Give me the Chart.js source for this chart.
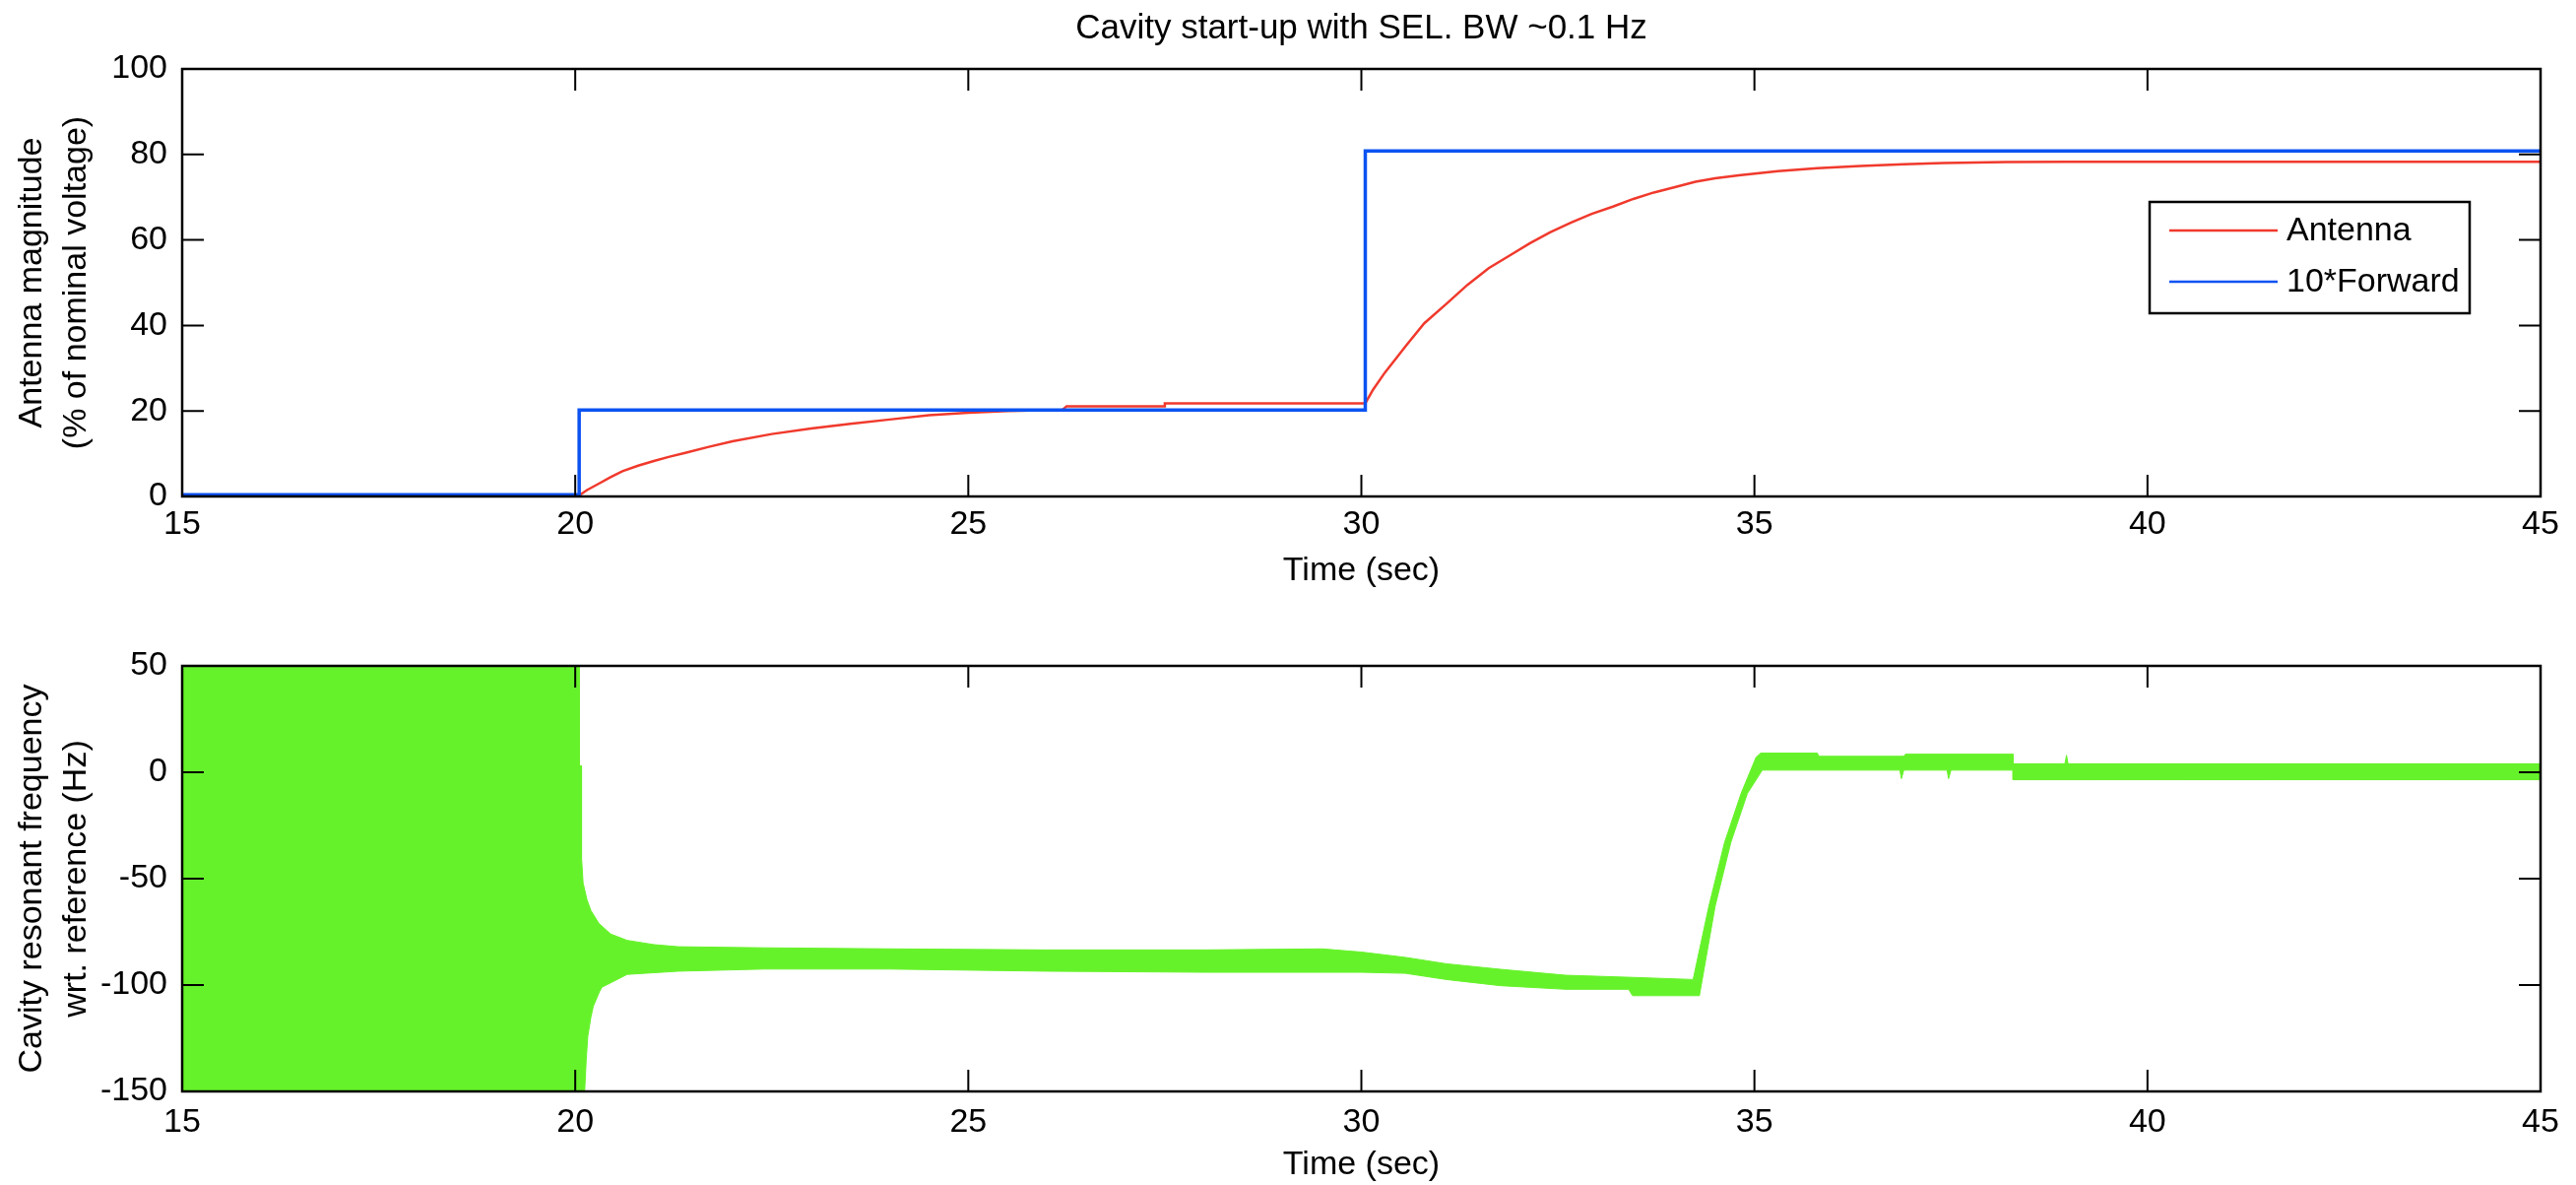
<!DOCTYPE html>
<html>
<head>
<meta charset="utf-8">
<title>Cavity start-up</title>
<script src="https://cdn.jsdelivr.net/npm/chart.js@4.4.0/dist/chart.umd.min.js"></script>
<style>
  body { margin: 0; background: #fff; }
  canvas { display: block; }
</style>
</head>
<body>
<canvas id="ampChart" width="2616" height="600"></canvas>
<canvas id="freqChart" width="2616" height="603"></canvas>
<script>
// axis ticks
const timeTicks = [15, 20, 25, 30, 35, 40, 45];
const ampTicks = [0, 20, 40, 60, 80, 100];
const freqTicks = [-150, -100, -50, 0, 50];

// antenna magnitude (% of nominal voltage)
const antennaT = [15, 20.03, 20.15, 20.3, 20.45, 20.6, 20.8, 21.0, 21.2, 21.4, 21.7, 22.0, 22.5, 23.0, 23.5, 24.0, 24.5, 25.0, 25.5, 26.2, 26.25, 27.5, 27.5, 30.05,
  30.15, 30.3, 30.45, 30.57, 30.8, 31.09, 31.35, 31.62, 31.9, 32.14, 32.4, 32.67, 32.93, 33.2, 33.46, 33.72, 34.0, 34.25, 34.5, 34.8, 35.3, 35.8, 36.35, 36.9, 37.4, 38.2, 38.98, 45];
const antennaV = [0, 0, 1.5, 3, 4.5, 5.9, 7.2, 8.3, 9.3, 10.2, 11.6, 12.9, 14.6, 15.9, 17.0, 18.0, 19.0, 19.6, 20.0, 20.3, 21.1, 21.1, 21.8, 21.8,
  25, 29, 32.5, 35.3, 40.5, 45.2, 49.5, 53.4, 56.5, 59.2, 61.8, 64.1, 66.1, 67.8, 69.6, 71.1, 72.4, 73.6, 74.4, 75.1, 76.1, 76.8, 77.3, 77.7, 78.0, 78.2, 78.3, 78.3];

// forward power, scaled by 10
const forwardT = [15, 20.05, 20.05, 30.05, 30.05, 45];
const forwardV = [0.4, 0.4, 20.2, 20.2, 80.8, 80.8];

// cavity detuning (Hz): upper and lower edge of the noisy trace
const detuneHiT = [15, 20.05, 20.05, 20.08, 20.08, 20.10, 20.15, 20.20, 20.30, 20.45, 20.66, 21.00, 21.31, 22.40, 24.00, 26.00, 28.00, 29.50,
  30.00, 30.56, 31.08, 31.77, 32.60, 33.45, 34.22, 34.42, 34.62, 34.83, 35.02, 35.08, 35.80, 35.82, 36.90, 36.92, 38.29, 38.29, 38.95, 38.97, 38.99, 45];
const detuneHiV = [50, 50, 3, 3, -40, -52, -60, -65, -71, -76, -79, -81, -82, -82.5, -83, -83.5, -83.5, -83,
  -84.5, -87, -90, -92.6, -95.4, -96.4, -97.4, -63, -33, -10, 7, 9, 9, 7.5, 7.5, 8.5, 8.5, 4, 4, 8, 4, 4];
const detuneLoT = [15, 20.12, 20.14, 20.16, 20.20, 20.23, 20.31, 20.34, 20.45, 20.66, 21.31, 22.40, 24.00, 26.00, 28.00, 30.00,
  30.56, 31.08, 31.77, 32.60, 33.40, 33.45, 34.30, 34.50, 34.70, 34.91, 35.10, 36.85, 36.87, 36.90, 37.45, 37.47, 37.50, 38.29, 38.29, 45];
const detuneLoV = [-150, -150, -135, -124, -115, -110, -103, -101, -99, -95, -93.5, -92.5, -92.5, -93.5, -94, -94,
  -94.5, -97.4, -100.3, -102, -102, -105, -105, -63, -33, -10, 1, 1, -3, 1, 1, -3, 1, 1, -3.5, -3.5];

const RED = '#f0392c';
const BLUE = '#0b52f2';
const GREEN = '#66f22a';
const FONT = 'Liberation Sans, Arial, Helvetica, sans-serif';

Chart.defaults.font.family = FONT;
Chart.defaults.font.size = 34;
Chart.defaults.color = '#000';

const pts = (xs, ys) => xs.map((x, i) => ({ x: x, y: ys[i] }));

// box around the plot area with inward ticks on all four sides
const axesFrame = {
  id: 'axesFrame',
  afterDatasetsDraw(chart) {
    const { ctx, chartArea: a, scales: { x, y } } = chart;
    const len = 22;
    ctx.save();
    ctx.strokeStyle = '#000';
    ctx.lineWidth = 2;
    ctx.beginPath();
    x.ticks.forEach(t => {
      const px = x.getPixelForValue(t.value);
      ctx.moveTo(px, a.bottom); ctx.lineTo(px, a.bottom - len);
      ctx.moveTo(px, a.top); ctx.lineTo(px, a.top + len);
    });
    y.ticks.forEach(t => {
      const py = y.getPixelForValue(t.value);
      ctx.moveTo(a.left, py); ctx.lineTo(a.left + len, py);
      ctx.moveTo(a.right, py); ctx.lineTo(a.right - len, py);
    });
    ctx.stroke();
    ctx.lineWidth = 2.5;
    ctx.strokeRect(a.left, a.top, a.right - a.left, a.bottom - a.top);
    ctx.restore();
  }
};

// figure title, centred over the plot area
const plotTitle = {
  id: 'plotTitle',
  afterDraw(chart) {
    const { ctx, chartArea: a } = chart;
    ctx.save();
    ctx.font = '35px ' + FONT;
    ctx.fillStyle = '#000';
    ctx.textAlign = 'center';
    ctx.textBaseline = 'middle';
    ctx.fillText('Cavity start-up with SEL. BW ~0.1 Hz', (a.left + a.right) / 2, 29);
    ctx.restore();
  }
};

// boxed legend inside the plot, upper right
const legendBox = {
  id: 'legendBox',
  afterDraw(chart) {
    const { ctx, chartArea: a } = chart;
    const left = a.right - 397, top = a.top + 135;
    ctx.save();
    ctx.fillStyle = '#fff';
    ctx.fillRect(left, top, 325, 113);
    ctx.strokeStyle = '#000';
    ctx.lineWidth = 2.5;
    ctx.strokeRect(left, top, 325, 113);
    ctx.font = '34px ' + FONT;
    ctx.textBaseline = 'middle';
    chart.data.datasets.forEach((ds, i) => {
      const yy = top + 29 + i * 52;
      ctx.strokeStyle = ds.borderColor;
      ctx.lineWidth = 2.5;
      ctx.beginPath();
      ctx.moveTo(left + 20, yy);
      ctx.lineTo(left + 130, yy);
      ctx.stroke();
      ctx.fillStyle = '#000';
      ctx.fillText(ds.label, left + 139, yy + 1);
    });
    ctx.restore();
  }
};

function timeAxis(height, pad) {
  return {
    type: 'linear',
    min: 15,
    max: 45,
    afterBuildTicks: s => { s.ticks = timeTicks.map(v => ({ value: v })); },
    afterFit: s => { s.height = height; },
    grid: { display: false, drawTicks: false },
    border: { display: false },
    ticks: { padding: pad, maxRotation: 0 },
    title: { display: true, text: 'Time (sec)', padding: 0 }
  };
}

function valueAxis(min, max, ticks, title) {
  return {
    min: min,
    max: max,
    afterBuildTicks: s => { s.ticks = ticks.map(v => ({ value: v })); },
    afterFit: s => { s.width = 185; },
    grid: { display: false, drawTicks: false },
    border: { display: false },
    ticks: { padding: 15 },
    title: { display: true, text: title, font: { size: 34, lineHeight: 1.32 }, padding: { top: 10, bottom: 0 } }
  };
}

new Chart(document.getElementById('ampChart'), {
  type: 'line',
  data: {
    datasets: [
      { label: 'Antenna', data: pts(antennaT, antennaV), borderColor: RED, borderWidth: 2.5, order: 1 },
      { label: '10*Forward', data: pts(forwardT, forwardV), borderColor: BLUE, borderWidth: 3.5, order: 0 }
    ]
  },
  options: {
    responsive: false,
    animation: false,
    layout: { padding: { top: 70, right: 36, bottom: 0, left: 0 } },
    elements: { point: { radius: 0 }, line: { tension: 0 } },
    plugins: { legend: { display: false }, tooltip: { enabled: false } },
    scales: {
      x: timeAxis(96, 8),
      y: valueAxis(0, 100, ampTicks, ['Antenna magnitude', '(% of nominal voltage)'])
    }
  },
  plugins: [axesFrame, legendBox, plotTitle]
});

new Chart(document.getElementById('freqChart'), {
  type: 'line',
  data: {
    datasets: [
      { label: 'lower', data: pts(detuneLoT, detuneLoV), borderColor: GREEN, borderWidth: 1, fill: false },
      { label: 'upper', data: pts(detuneHiT, detuneHiV), borderColor: GREEN, borderWidth: 1, backgroundColor: GREEN, fill: '-1' }
    ]
  },
  options: {
    responsive: false,
    animation: false,
    layout: { padding: { top: 76, right: 36, bottom: 0, left: 0 } },
    elements: { point: { radius: 0 }, line: { tension: 0 } },
    plugins: { legend: { display: false }, tooltip: { enabled: false } },
    scales: {
      x: timeAxis(95, 11),
      y: valueAxis(-150, 50, freqTicks, ['Cavity resonant frequency', 'wrt. reference (Hz)'])
    }
  },
  plugins: [axesFrame]
});
</script>
</body>
</html>
